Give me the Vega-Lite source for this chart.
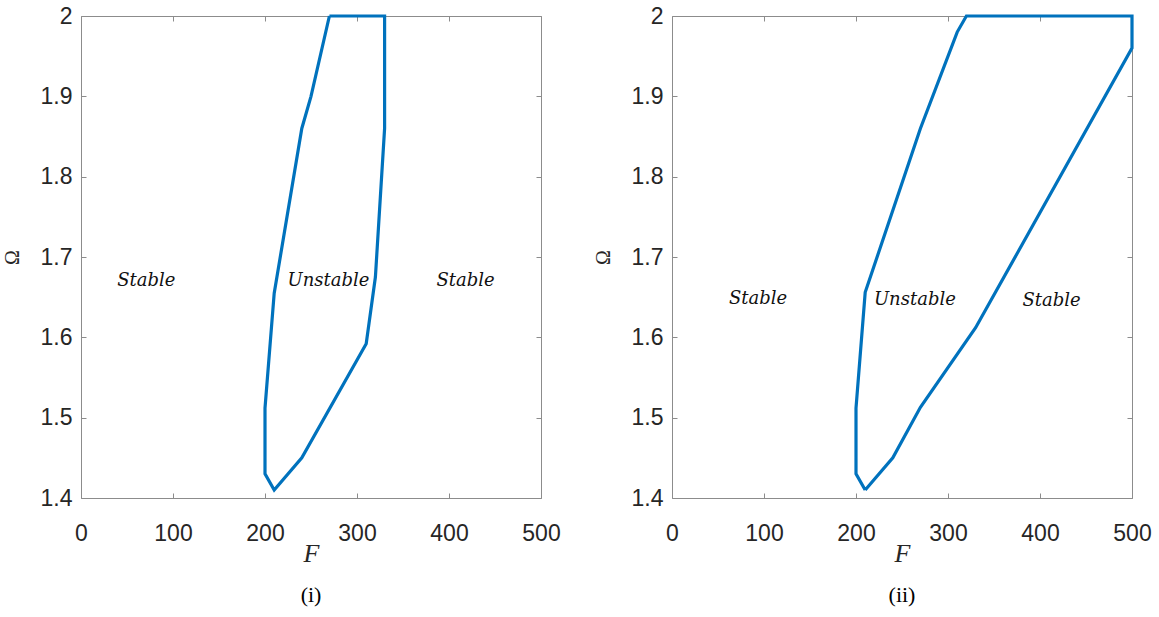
{
  "$schema": "https://vega.github.io/schema/vega-lite/v6.json",
  "padding": {"left": 2, "top": 5, "right": 5, "bottom": 5},
  "background": "white",
  "spacing": 131,
  "bounds": "flush",
  "datasets": {
    "left": [
      {"i": 1, "F": 270, "Omega": 2.0},
      {"i": 2, "F": 330, "Omega": 2.0},
      {"i": 3, "F": 330, "Omega": 1.86},
      {"i": 4, "F": 320, "Omega": 1.675},
      {"i": 5, "F": 310, "Omega": 1.592},
      {"i": 6, "F": 240, "Omega": 1.45},
      {"i": 7, "F": 210, "Omega": 1.41},
      {"i": 8, "F": 200, "Omega": 1.43},
      {"i": 9, "F": 200, "Omega": 1.512},
      {"i": 10, "F": 210, "Omega": 1.655},
      {"i": 11, "F": 240, "Omega": 1.86},
      {"i": 12, "F": 250, "Omega": 1.9},
      {"i": 13, "F": 270, "Omega": 2.0}
    ],
    "right": [
      {"i": 1, "F": 210, "Omega": 1.41},
      {"i": 2, "F": 200, "Omega": 1.43},
      {"i": 3, "F": 200, "Omega": 1.512},
      {"i": 4, "F": 210, "Omega": 1.656},
      {"i": 5, "F": 270, "Omega": 1.86},
      {"i": 6, "F": 310, "Omega": 1.98},
      {"i": 7, "F": 320, "Omega": 2.0},
      {"i": 8, "F": 500, "Omega": 2.0},
      {"i": 9, "F": 500, "Omega": 1.96},
      {"i": 10, "F": 330, "Omega": 1.612},
      {"i": 11, "F": 270, "Omega": 1.513},
      {"i": 12, "F": 240, "Omega": 1.45},
      {"i": 13, "F": 210, "Omega": 1.41}
    ],
    "textLeft": [
      {"label": "Stable", "F": 71, "Omega": 1.664},
      {"label": "Unstable", "F": 269, "Omega": 1.6635},
      {"label": "Stable", "F": 418, "Omega": 1.664}
    ],
    "textRight": [
      {"label": "Stable", "F": 93.5, "Omega": 1.641},
      {"label": "Unstable", "F": 264, "Omega": 1.64},
      {"label": "Stable", "F": 412.5, "Omega": 1.639}
    ]
  },
  "config": {
    "view": {"stroke": null},
    "axis": {
      "domainColor": "#8c8c8c",
      "tickColor": "#8c8c8c",
      "domainWidth": 1,
      "tickWidth": 1,
      "tickSize": -5,
      "grid": false,
      "labelFont": "Liberation Sans",
      "labelFontSize": 23,
      "labelColor": "#262626",
      "labelFlush": false,
      "labelOverlap": false,
      "titleColor": "#262626",
      "titleFontWeight": "normal"
    }
  },
  "hconcat": [
    {
      "width": 460,
      "height": 482,
      "title": {"text": "(i)", "orient": "bottom", "anchor": "middle", "font": "Liberation Serif", "fontSize": 22, "fontWeight": "normal", "color": "#000000", "offset": 19},
      "layer": [
        {
          "data": {"name": "left"},
          "mark": {"type": "line", "color": "#0072BD", "strokeWidth": 3.2, "strokeJoin": "miter"},
          "encoding": {
            "x": {"field": "F", "type": "quantitative", "scale": {"domain": [0, 500], "nice": false},
              "axis": {"orient": "bottom", "values": [0, 100, 200, 300, 400, 500], "labelPadding": 29, "title": "F", "titleFont": "Liberation Serif", "titleFontStyle": "italic", "titleFontSize": 26, "titleX": 230, "titleY": 63, "titleBaseline": "alphabetic", "titleAlign": "center"}},
            "y": {"field": "Omega", "type": "quantitative", "scale": {"domain": [1.4, 2], "nice": false, "zero": false},
              "axis": {"orient": "left", "values": [1.4, 1.5, 1.6, 1.7, 1.8, 1.9, 2], "format": "~g", "labelPadding": 14, "title": "Ω", "titleFont": "Liberation Serif", "titleFontSize": 20, "titleAngle": -90, "titleX": -63, "titleY": 241, "titleBaseline": "alphabetic", "titleAlign": "center"}},
            "order": {"field": "i", "type": "quantitative"}
          }
        },
        {
          "data": {"name": "textLeft"},
          "mark": {"type": "text", "font": "DejaVu Serif", "fontStyle": "italic", "fontSize": 18, "color": "#111111", "baseline": "alphabetic", "align": "center"},
          "encoding": {
            "x": {"field": "F", "type": "quantitative", "axis": null},
            "y": {"field": "Omega", "type": "quantitative", "axis": null},
            "text": {"field": "label"}
          }
        },
        {
          "data": {"name": "left"},
          "mark": {"type": "point", "opacity": 0},
          "encoding": {
            "x": {"field": "F", "type": "quantitative", "axis": {"orient": "top", "labels": false, "title": null, "values": [0, 100, 200, 300, 400, 500]}},
            "y": {"field": "Omega", "type": "quantitative", "axis": {"orient": "right", "labels": false, "title": null, "values": [1.4, 1.5, 1.6, 1.7, 1.8, 1.9, 2]}}
          }
        }
      ],
      "resolve": {"axis": {"x": "independent", "y": "independent"}}
    },
    {
      "width": 460,
      "height": 482,
      "title": {"text": "(ii)", "orient": "bottom", "anchor": "middle", "font": "Liberation Serif", "fontSize": 22, "fontWeight": "normal", "color": "#000000", "offset": 19},
      "layer": [
        {
          "data": {"name": "right"},
          "mark": {"type": "line", "color": "#0072BD", "strokeWidth": 3.2, "strokeJoin": "miter"},
          "encoding": {
            "x": {"field": "F", "type": "quantitative", "scale": {"domain": [0, 500], "nice": false},
              "axis": {"orient": "bottom", "values": [0, 100, 200, 300, 400, 500], "labelPadding": 29, "title": "F", "titleFont": "Liberation Serif", "titleFontStyle": "italic", "titleFontSize": 26, "titleX": 230, "titleY": 63, "titleBaseline": "alphabetic", "titleAlign": "center"}},
            "y": {"field": "Omega", "type": "quantitative", "scale": {"domain": [1.4, 2], "nice": false, "zero": false},
              "axis": {"orient": "left", "values": [1.4, 1.5, 1.6, 1.7, 1.8, 1.9, 2], "format": "~g", "labelPadding": 14, "title": "Ω", "titleFont": "Liberation Serif", "titleFontSize": 20, "titleAngle": -90, "titleX": -63, "titleY": 241, "titleBaseline": "alphabetic", "titleAlign": "center"}},
            "order": {"field": "i", "type": "quantitative"}
          }
        },
        {
          "data": {"name": "textRight"},
          "mark": {"type": "text", "font": "DejaVu Serif", "fontStyle": "italic", "fontSize": 18, "color": "#111111", "baseline": "alphabetic", "align": "center"},
          "encoding": {
            "x": {"field": "F", "type": "quantitative", "axis": null},
            "y": {"field": "Omega", "type": "quantitative", "axis": null},
            "text": {"field": "label"}
          }
        },
        {
          "data": {"name": "right"},
          "mark": {"type": "point", "opacity": 0},
          "encoding": {
            "x": {"field": "F", "type": "quantitative", "axis": {"orient": "top", "labels": false, "title": null, "values": [0, 100, 200, 300, 400, 500]}},
            "y": {"field": "Omega", "type": "quantitative", "axis": {"orient": "right", "labels": false, "title": null, "values": [1.4, 1.5, 1.6, 1.7, 1.8, 1.9, 2]}}
          }
        }
      ],
      "resolve": {"axis": {"x": "independent", "y": "independent"}}
    }
  ]
}
